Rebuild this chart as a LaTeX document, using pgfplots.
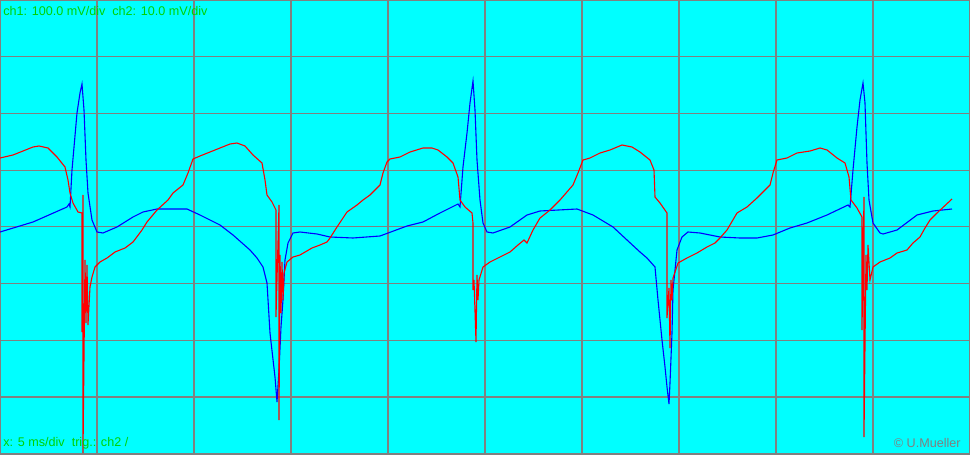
\documentclass[border=0pt]{standalone}
\usepackage{pgfplots}
\pgfplotsset{compat=1.18}
\usepackage{fontspec}
\setmainfont{Liberation Sans}
\definecolor{scopebg}{RGB}{0,255,255}
\definecolor{scopegrid}{RGB}{128,128,128}
\definecolor{scopegreen}{RGB}{0,210,0}
\definecolor{chone}{RGB}{0,0,255}
\definecolor{chtwo}{RGB}{255,0,0}
\begin{document}
\begin{tikzpicture}
\begin{axis}[
  name=scope,
  scale only axis,
  width=485pt, height=227.5pt,
  xmin=0, xmax=970, ymin=0, ymax=455,
  y dir=reverse,
  axis background/.style={fill=scopebg},
  axis line style={scopegrid, line width=0.6pt},
  xtick={97,194,291,388,485,582,679,776,873},
  ytick={56.7,113.4,170.1,226.8,283.5,340.2,396.9,453.6},
  xticklabels={}, yticklabels={},
  major tick length=0pt,
  grid=major,
  major grid style={scopegrid, line width=0.6pt},
  clip=true,
]
% ch1 (blue)
\addplot[chone, line width=0.55pt, mark=none] coordinates {
(0,232) (33,222) (67,207) (69,204) (70,207) (72,170) (77,113) (80,93) (82,84) (84,110) (86,160) (88,193) (92,220) (97,232) (103,233) (117,227) (133,217) (143,212) (157,209) (187,209) (200,215) (220,225) (233,235) (250,250) (257,258) (263,267) (267,283) (270,333) (275,377) (277,402) (279,370) (281,327) (283,300) (285,260) (288,243) (293,233) (300,232) (317,234) (330,237) (353,238) (380,236) (407,226) (423,222) (440,213) (458,204) (460,207) (463,167) (467,133) (470,103) (473,81) (475,110) (477,160) (480,200) (483,223) (487,232) (493,233) (510,227) (527,215) (540,211) (577,209) (593,215) (613,227) (627,240) (640,252) (647,258) (655,267) (658,300) (662,340) (665,367) (667,387) (669,404) (670,383) (672,333) (673,290) (677,250) (682,237) (688,232) (700,233) (720,237) (740,238) (757,238) (773,235) (790,228) (807,223) (827,215) (848,205) (850,207) (853,170) (857,127) (860,100) (863,83) (865,103) (867,163) (869,200) (873,223) (880,233) (883,234) (897,230) (917,215) (933,211) (952,209)
};
% ch2 (red)
\addplot[chtwo, line width=0.55pt, mark=none] coordinates {
(0,158) (13,155) (23,151) (33,147) (39,146) (48,148) (57,157) (65,167) (68,180) (70,193) (73,203) (78,212) (82,213) (82,332) (83,195) (83,453) (85,260) (86,323) (87,265) (88,325) (90,287) (92,277) (95,267) (100,262) (107,258) (115,252) (125,248) (133,242) (142,230) (147,222) (157,210) (168,200) (173,193) (183,185) (188,173) (193,159) (200,156) (210,152) (220,148) (230,144) (237,143) (245,146) (253,155) (262,163) (265,180) (267,195) (272,202) (276,210) (276,317) (279,205) (279,420) (280,255) (281,313) (282,262) (283,300) (284,273) (287,262) (293,257) (300,255) (312,248) (320,245) (327,242) (330,238) (337,227) (347,212) (357,205) (363,200) (370,195) (380,185) (383,173) (387,162) (390,159) (400,157) (410,152) (423,148) (432,148) (438,150) (447,157) (453,163) (458,177) (460,200) (465,207) (472,213) (473,223) (473,290) (474,280) (476,342) (477,275) (478,300) (479,280) (483,267) (490,262) (500,257) (510,252) (518,245) (524,240) (527,243) (533,230) (540,218) (550,210) (560,200) (573,185) (578,173) (583,160) (590,158) (600,153) (610,150) (622,145) (632,147) (640,152) (650,160) (654,170) (655,197) (660,203) (667,213) (667,318) (669,288) (670,348) (671,280) (672,300) (673,278) (678,263) (687,258) (697,253) (707,247) (715,243) (720,238) (727,230) (737,213) (747,207) (757,198) (770,185) (773,173) (777,160) (787,158) (797,153) (810,151) (820,148) (827,150) (837,158) (845,163) (849,177) (851,200) (857,208) (862,217) (862,330) (864,197) (864,437) (866,255) (867,290) (868,245) (870,280) (873,267) (880,262) (890,258) (897,253) (907,250) (913,243) (920,237) (925,228) (930,220) (937,213) (952,199)
};
\node[anchor=west, inner sep=0pt, text=scopegreen, font=\fontsize{6.3pt}{7pt}\selectfont] at (axis cs:3,11) {ch1: 100.0 mV/div\ \ ch2: 10.0 mV/div};
\node[anchor=west, inner sep=0pt, text=scopegreen, font=\fontsize{6.3pt}{7pt}\selectfont] at (axis cs:3,443) {x: 5 ms/div\ \ trig.: ch2 /};
\node[anchor=east, inner sep=0pt, text=scopegrid, font=\fontsize{6.3pt}{7pt}\selectfont] at (axis cs:961,443) {© U.Mueller};
\end{axis}
\pgfresetboundingbox
\path[use as bounding box] (scope.south west) rectangle (scope.north east);
\end{tikzpicture}
\end{document}
